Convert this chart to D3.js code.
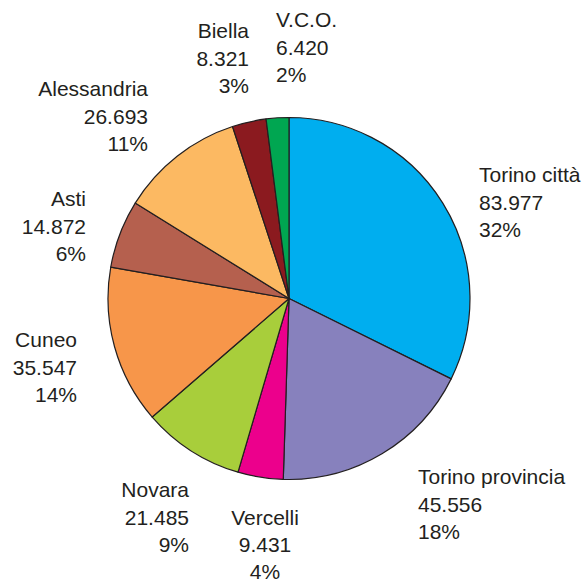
<!DOCTYPE html>
<html>
<head>
<meta charset="utf-8">
<script src="https://cdn.jsdelivr.net/npm/d3@7"></script>
<style>
  html, body { margin: 0; padding: 0; background: #fff; }
  text { font-family: "Liberation Sans", Arial, sans-serif; fill: #231f20; }
</style>
</head>
<body>
<svg id="chart" width="587" height="583"></svg>
<script>
// Pie chart: provinces of Piemonte

const categories = ['Torino città', 'Torino provincia', 'Vercelli', 'Novara', 'Cuneo',
  'Asti', 'Alessandria', 'Biella', 'V.C.O.'];
const counts = [83977, 45556, 9431, 21485, 35547, 14872, 26693, 8321, 6420];
const percents = [32, 18, 4, 9, 14, 6, 11, 3, 2];

const colors = ['#00aeef', '#8781bd', '#ec008c', '#a8ce3b', '#f7964a',
  '#b5604e', '#fcb962', '#8b1a1f', '#00a651'];

// label layout: anchor x, first baseline y, text-anchor
const labelLayout = [
  [479, 182, 'start'], [418, 484, 'start'], [265, 525, 'middle'],
  [189, 497, 'end'], [77, 347, 'end'], [86, 206, 'end'],
  [148, 96, 'end'], [249, 38, 'end'], [276, 27, 'start']
];

const it = d3.formatLocale({decimal: ',', thousands: '.', grouping: [3], currency: ['€', '']});
const fmt = it.format(',d');

const svg = d3.select('#chart');
const cx = 289, cy = 298.5, radius = 181;

// slices follow the rounded percentages printed on the chart
const pie = d3.pie().sort(null).value(d => d.pct);
const arc = d3.arc().innerRadius(0).outerRadius(radius);

const data = categories.map((c, i) => ({name: c, count: counts[i], pct: percents[i], color: colors[i]}));

svg.append('g')
    .attr('transform', `translate(${cx},${cy})`)
  .selectAll('path')
  .data(pie(data))
  .enter()
  .append('path')
    .attr('d', arc)
    .attr('fill', d => d.data.color)
    .attr('stroke', '#231f20')
    .attr('stroke-width', 1.2)
    .attr('stroke-linejoin', 'round');

const labels = svg.append('g')
  .selectAll('text')
  .data(data)
  .enter()
  .append('text')
    .attr('font-size', 21)
    .attr('text-anchor', (d, i) => labelLayout[i][2]);

labels.each(function(d, i) {
  const t = d3.select(this);
  const [x, y] = labelLayout[i];
  const lineH = i === 2 ? 27 : 27.7;
  [d.name, fmt(d.count), d.pct + '%'].forEach((s, k) => {
    t.append('tspan').attr('x', x).attr('y', y + k * lineH).text(s);
  });
});
</script>
</body>
</html>
